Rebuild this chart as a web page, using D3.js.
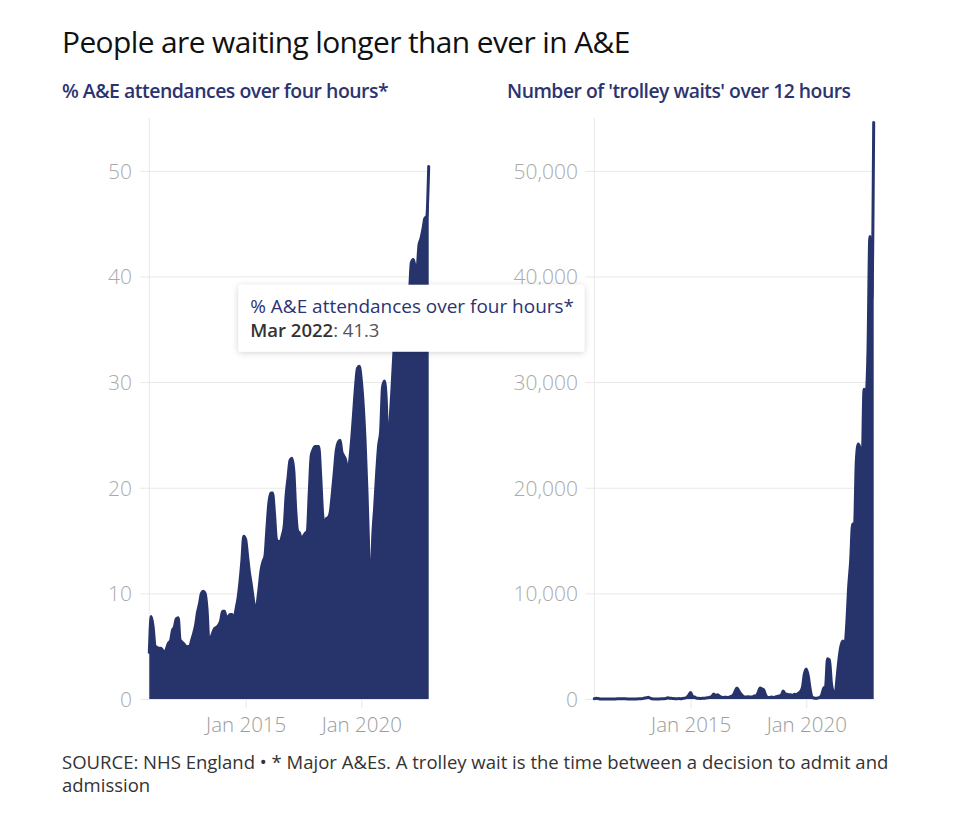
<!DOCTYPE html>
<html>
<head>
<meta charset="utf-8">
<script src="https://cdn.jsdelivr.net/npm/d3@7/dist/d3.min.js"></script>
<style>
  html, body { margin: 0; padding: 0; background: #fff; }
  svg { display: block; font-family: "Open Sans", "Noto Sans", sans-serif; }
</style>
</head>
<body>
<svg id="chart" width="954" height="827"></svg>
<script>
// ---- Data (monthly, Nov 2010 – Dec 2022) ----
const startMonth = "2010-11";
const endMonth = "2022-12";

// % of A&E attendances (major A&Es) over four hours
const pctOverFourHours = [
  // 2010 Nov-Dec
  4.4, 7.8,
  // 2011
  6.8, 5.0, 4.9, 4.8, 4.8, 4.6, 4.3, 4.8, 5.3, 5.5, 6.5, 6.8,
  // 2012
  7.6, 7.7, 5.6, 5.4, 5.2, 5.0, 4.95, 5.0, 5.6, 6.2, 7.0, 8.2,
  // 2013
  9.0, 10.0, 10.2, 10.0, 8.5, 5.4, 5.8, 6.3, 6.7, 6.8, 7.0, 7.4,
  // 2014
  8.3, 8.3, 7.7, 7.8, 8.0, 8.0, 7.5, 8.5, 9.5, 11.0, 13.0, 15.4,
  // 2015
  15.1, 13.5, 12.0, 10.8, 9.5, 8.4, 9.0, 10.5, 12.2, 13.0, 13.5, 16.0,
  // 2016
  18.5, 19.5, 19.5, 17.5, 15.1, 14.9, 14.9, 15.5, 16.4, 19.3, 21.0, 22.6,
  // 2017
  22.8, 21.5, 18.0, 15.9, 15.7, 15.1, 15.4, 15.7, 15.9, 19.5, 23.0, 23.6,
  // 2018
  23.9, 23.9, 23.9, 21.0, 17.5, 16.4, 17.1, 17.2, 17.8, 19.5, 21.5, 23.5,
  // 2019
  24.3, 24.5, 23.4, 23.0, 22.6, 21.5, 22.5, 24.5, 27.0, 29.5, 31.3, 31.5,
  // 2020
  30.2, 27.8, 24.5, 19.5, 13.5, 10.3, 15.5, 18.3, 21.5, 24.0, 25.3, 29.5,
  // 2021
  30.1, 28.0, 22.5, 26.5, 29.5, 33.0, 35.5, 35.0, 37.0, 38.5, 37.5, 38.5,
  // 2022
  37.5, 38.5, 41.3, 41.6, 41.0, 40.9, 43.0, 43.6, 44.5, 45.5, 45.7, 50.4
];

// Number of 'trolley waits' over 12 hours
const trolleyWaits = [
  // 2010 Nov-Dec
  20, 60,
  // 2011
  40, 10, 5, 5, 5, 2, 5, 3, 5, 10, 15, 20,
  // 2012
  30, 20, 15, 10, 5, 5, 5, 5, 10, 15, 20, 35,
  // 2013
  90, 110, 160, 90, 20, 10, 10, 5, 10, 20, 30, 40,
  // 2014
  120, 70, 60, 40, 30, 30, 40, 30, 60, 80, 150, 350,
  // 2015
  620, 220, 200, 90, 60, 50, 60, 60, 100, 120, 180, 230,
  // 2016
  480, 300, 400, 250, 180, 150, 170, 150, 180, 250, 350, 700,
  // 2017
  1050, 750, 500, 300, 200, 200, 220, 180, 200, 280, 300, 600,
  // 2018
  1040, 950, 850, 350, 150, 150, 180, 150, 200, 250, 300, 350,
  // 2019
  750, 500, 450, 400, 400, 350, 450, 400, 550, 700, 1100, 2350,
  // 2020
  2850, 2200, 1000, 200, 100, 80, 100, 150, 400, 1000, 1200, 3800,
  // 2021
  3700, 1500, 700, 500, 2000, 3800, 5000, 5500, 5000, 7059, 10646, 12986,
  // 2022
  16558, 16404, 22506, 24138, 23670, 22034, 29317, 28756, 32776, 43792, 37837, 54573
];

const pctTicks = [0, 10, 20, 30, 40, 50];
const trolleyTicks = [0, 10000, 20000, 30000, 40000, 50000];
const xTickDates = ["2015-01", "2020-01"];

const titleText = "People are waiting longer than ever in A&E";
const leftSubtitle = "% A&E attendances over four hours*";
const rightSubtitle = "Number of 'trolley waits' over 12 hours";
const sourceLines = [
  "SOURCE: NHS England \u2022 * Major A&Es. A trolley wait is the time between a decision to admit and",
  "admission"
];
const tooltipMonth = "2022-03";

// ---- Build ----
const parseM = d3.timeParse("%Y-%m");
const months = d3.timeMonth.range(parseM(startMonth), d3.timeMonth.offset(parseM(endMonth), 1));
const leftData = months.map((d, i) => ({ date: d, value: pctOverFourHours[i] }));
const rightData = months.map((d, i) => ({ date: d, value: trolleyWaits[i] }));

const svg = d3.select("#chart");
const navy = "#27346c";
const subColor = "#2b3470";
const gridColor = "#e8e8e8";
const tickText = "#aaaaaa";
const FONT = "Open Sans, sans-serif";

// scale a text's font size so it spans the given width
function fitWidth(sel, target) {
  const node = sel.node();
  const fs = parseFloat(sel.attr("font-size"));
  const w = node.getComputedTextLength();
  if (w > 0) sel.attr("font-size", (fs * target / w).toFixed(2));
  return sel;
}

fitWidth(svg.append("text")
  .attr("x", 62).attr("y", 53)
  .attr("font-size", 26).attr("font-weight", 500)
  .attr("fill", "#111")
  .attr("font-family", FONT)
  .attr("letter-spacing", "-0.6")
  .text(titleText), 564);

const plotTop = 118, plotBottom = 699;

function drawPanel(opts) {
  const { data, x0, x1, yMax, ticks, fmt, subtitle, labelRight } = opts;
  const g = svg.append("g");
  const x = d3.scaleTime().domain([months[0], months[months.length - 1]]).range([x0, x1]);
  const y = d3.scaleLinear().domain([0, yMax]).range([plotBottom, plotTop]);

  fitWidth(g.append("text")
    .attr("x", opts.subX).attr("y", 98)
    .attr("font-size", 17).attr("font-weight", 600)
    .attr("fill", subColor)
    .attr("font-family", FONT)
    .attr("letter-spacing", "-0.5")
    .text(subtitle), opts.subW);

  // gridlines
  const yAxis = d3.axisLeft(y).tickValues(ticks).tickFormat(fmt);
  const ya = g.append("g").attr("transform", `translate(${x0 - 9},0)`).call(yAxis);
  ya.select(".domain").remove();
  ya.selectAll(".tick line").attr("stroke", gridColor).attr("stroke-width", 1)
    .attr("x1", 0).attr("x2", x1 - x0 + 9);
  ya.selectAll(".tick text")
    .attr("x", labelRight - (x0 - 9))
    .attr("text-anchor", "end")
    .attr("font-size", 21).attr("fill", tickText)
    .attr("font-family", FONT)
    .attr("font-weight", 300)
    .attr("dy", "0.35em");

  // vertical axis line
  g.append("line").attr("x1", x0).attr("x2", x0).attr("y1", plotTop).attr("y2", plotBottom)
    .attr("stroke", gridColor).attr("stroke-width", 1);

  // x axis
  const xAxis = d3.axisBottom(x).tickValues(xTickDates.map(parseM)).tickFormat(d3.timeFormat("%b %Y")).tickSize(9).tickPadding(9);
  const xa = g.append("g").attr("transform", `translate(0,${plotBottom})`).call(xAxis);
  xa.select(".domain").remove();
  xa.selectAll(".tick line").attr("stroke", gridColor);
  xa.selectAll(".tick text").attr("font-size", 20.5).attr("fill", "#9c9c9c")
    .attr("font-weight", 300)
    .attr("font-family", FONT);

  // area + top line
  const area = d3.area().x(d => x(d.date)).y0(y(0)).y1(d => y(d.value)).curve(d3.curveMonotoneX);
  const line = d3.line().x(d => x(d.date)).y(d => y(d.value)).curve(d3.curveMonotoneX);
  g.append("path").datum(data).attr("d", area).attr("fill", navy);
  g.append("path").datum(data).attr("d", line).attr("fill", "none").attr("stroke", navy)
    .attr("stroke-width", 3).attr("stroke-linejoin", "round").attr("stroke-linecap", "round");

  return { g, x, y };
}

const left = drawPanel({
  data: leftData, x0: 149.3, x1: 428.7, yMax: 55, ticks: pctTicks,
  fmt: d3.format("d"), subtitle: leftSubtitle, subX: 62, subW: 324, labelRight: 132
});
const right = drawPanel({
  data: rightData, x0: 594.3, x1: 873.7, yMax: 55000, ticks: trolleyTicks,
  fmt: d3.format(","), subtitle: rightSubtitle, subX: 507, subW: 341, labelRight: 578
});

// tooltip
const tipD = leftData.find(d => d3.timeFormat("%Y-%m")(d.date) === tooltipMonth);
const px = left.x(tipD.date), py = left.y(tipD.value);
const tip = svg.append("g");
const defs = svg.append("defs");
const filt = defs.append("filter").attr("id", "shadow").attr("x", "-20%").attr("y", "-40%").attr("width", "140%").attr("height", "180%");
filt.append("feDropShadow").attr("dx", 0).attr("dy", 1).attr("stdDeviation", 3).attr("flood-color", "#000").attr("flood-opacity", 0.18);
const tipW = 346, tipH = 67;
const bx = px - tipW / 2, by = py + 22;
tip.append("rect").attr("x", bx).attr("y", by).attr("width", tipW).attr("height", tipH)
  .attr("rx", 3).attr("fill", "#fff").attr("filter", "url(#shadow)");
fitWidth(tip.append("text").attr("x", bx + 12).attr("y", by + 28)
  .attr("font-size", 17.5).attr("fill", subColor).attr("font-family", FONT)
  .text(leftSubtitle), 324);
const t2 = tip.append("text").attr("x", bx + 12).attr("y", by + 52)
  .attr("font-size", 18.5).attr("fill", "#333").attr("font-family", FONT);
t2.append("tspan").attr("font-weight", 600).text(d3.timeFormat("%b %Y")(tipD.date));
t2.append("tspan").attr("fill", "#555").text(": " + tipD.value);

// source
sourceLines.forEach((s, i) => {
  const t = svg.append("text").attr("x", 62).attr("y", 769 + i * 23)
    .attr("font-size", 17).attr("fill", "#333")
    .attr("font-family", FONT)
    .text(s);
  if (i === 0) fitWidth(t, 827);
  else t.attr("font-size", 18.5);
});
</script>
</body>
</html>
